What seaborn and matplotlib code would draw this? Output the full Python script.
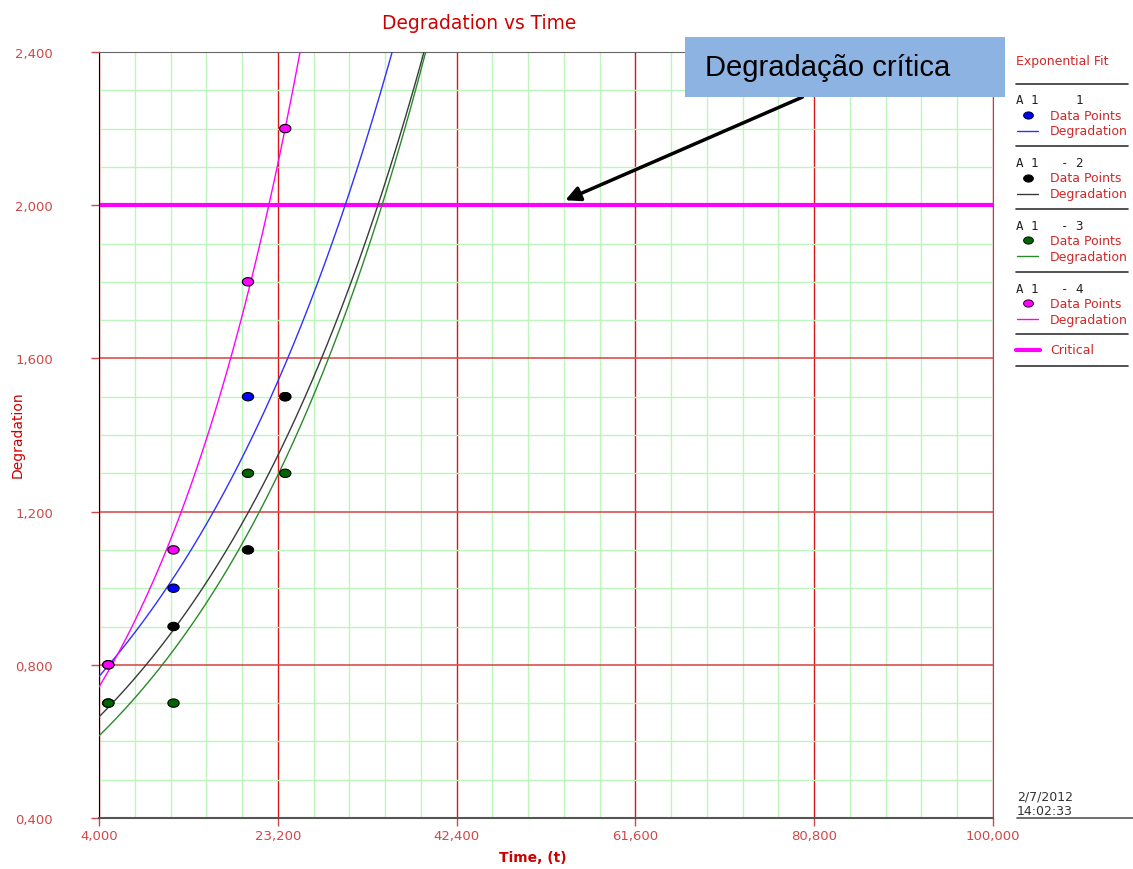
import numpy as np
import pandas as pd
import matplotlib
matplotlib.use("Agg")
import matplotlib.pyplot as plt
from matplotlib.patches import Rectangle
from matplotlib.path import Path
from matplotlib.ticker import FixedLocator, MultipleLocator, FuncFormatter
import seaborn as sns

# data
units = ["A 1     1", "A 1   - 2", "A 1   - 3", "A 1   - 4"]
times = [5000, 12000, 20000, 24000]
deg_unit1 = [0.8, 1.0, 1.5, 1.5]
deg_unit2 = [0.7, 0.9, 1.1, 1.5]
deg_unit3 = [0.7, 0.7, 1.3, 1.3]
deg_unit4 = [0.8, 1.1, 1.8, 2.2]
# exponential fit y = a * exp(b * t), estimated from the drawn curves
fit_a = [0.666, 0.573, 0.526, 0.597]
fit_b = [3.613e-5, 3.682e-5, 3.884e-5, 5.437e-5]
critical = 2.0
arrow_t = 53800

x_ticks = [4000, 23200, 42400, 61600, 80800, 100000]
y_ticks = [0.4, 0.8, 1.2, 1.6, 2.0, 2.4]

point_colors = ["#0000FF", "#000000", "#006400", "#FF00FF"]
line_colors = ["#3030FF", "#3A3A3A", "#2A8A2A", "#FF00FF"]
red = "#CC0000"
tick_red = "#D04848"

# long tables for seaborn
pts = pd.DataFrame({
    "Unit": np.repeat(units, len(times)),
    "Time": times * len(units),
    "Degradation": deg_unit1 + deg_unit2 + deg_unit3 + deg_unit4,
})
t_fit = np.linspace(4000, 46000, 400)
curves = pd.concat([
    pd.DataFrame({"Unit": u, "Time": t_fit, "Degradation": a * np.exp(b * t_fit)})
    for u, a, b in zip(units, fit_a, fit_b)
])

sns.set_style("white")
plt.rcParams["font.family"] = ["DejaVu Sans"]

W, H = 1133, 870
fig = plt.figure(figsize=(W / 100, H / 100), dpi=100)
ax = fig.add_axes([99 / W, 1 - 819 / H, 894 / W, 766 / H])

# grid
ax.set_xlim(4000, 100000)
ax.set_ylim(0.4, 2.4)
ax.set_xticks(x_ticks)
ax.set_yticks(y_ticks)
ax.xaxis.set_minor_locator(FixedLocator(np.arange(4000, 100001, 3840)))
ax.yaxis.set_minor_locator(MultipleLocator(0.1))
ax.grid(which="minor", color="#BDF5BD", lw=1)
ax.grid(which="major", axis="x", color="#D81818", lw=1.0)
ax.grid(which="major", axis="y", color="#D85050", lw=1.2)
ax.set_axisbelow(True)

ax.axhline(critical, color="#FF00FF", lw=3, zorder=2)

sns.lineplot(data=curves, x="Time", y="Degradation", hue="Unit", hue_order=units,
             palette=dict(zip(units, line_colors)), lw=1, legend=False, ax=ax, zorder=3)

theta = np.linspace(0, 2 * np.pi, 40)
ellipse = Path(np.column_stack([1.35 * np.cos(theta), np.sin(theta)]))
sns.scatterplot(data=pts, x="Time", y="Degradation", hue="Unit", hue_order=units,
                palette=dict(zip(units, point_colors)), marker=ellipse, s=66,
                edgecolor="black", linewidth=0.8, legend=False, ax=ax, zorder=5)

# axes styling
ax.xaxis.set_major_formatter(FuncFormatter(lambda v, p: f"{v:,.0f}"))
ax.yaxis.set_major_formatter(FuncFormatter(lambda v, p: f"{v:.3f}".replace(".", ",")))
ax.tick_params(which="major", direction="out", length=6, width=1, color=tick_red,
               labelcolor=tick_red, labelsize=9.5, bottom=True, left=True)
ax.tick_params(axis="y", pad=27)
ax.tick_params(axis="x", pad=2)
ax.tick_params(which="minor", length=0)
ax.spines["left"].set_color("black")
ax.spines["bottom"].set_color("#555555")
ax.spines["bottom"].set_linewidth(1.5)
for s in ["top", "right"]:
    ax.spines[s].set_color("#666666")

ax.set_xlabel("Time, (t)", color=red, fontweight="bold", fontsize=10)
ax.set_ylabel("Degradation", color=red, fontsize=10)
ax.xaxis.set_label_coords((533 - 99) / 894, -(851 - 819) / 766)
ax.yaxis.set_label_coords(-(99 - 25) / 894, (819 - 435) / 766)
ax.set_title("Degradation vs Time", color=red, fontsize=13.4, x=(479 - 99) / 894, pad=17)

# callout arrow pointing at the critical line
ax.annotate("", xy=(arrow_t, critical + 0.01), xytext=(805, H - 97),
            textcoords="figure pixels",
            arrowprops=dict(arrowstyle="-|>", color="black", lw=2.5, mutation_scale=22))

# overlay in pixel coordinates for the side legend and the callout box
ov = fig.add_axes([0, 0, 1, 1], zorder=3)
ov.set_xlim(0, W)
ov.set_ylim(H, 0)
ov.axis("off")

ov.add_patch(Rectangle((685, 38), 320, 60, facecolor="#8DB3E2", edgecolor="none"))
ov.text(705, 68, "Degradação crítica", fontsize=21, family="Liberation Sans",
        va="center", ha="left", color="black")

leg_red = "#D02828"
ov.text(1016, 62, "Exponential Fit", color=leg_red, fontsize=9, va="center")
sep_y = [85, 147, 210, 273, 335, 367]
for y in sep_y:
    ov.plot([1016, 1128], [y, y], color="#333333", lw=1.2)
for i, u in enumerate(units):
    y0 = 101 + i * 62.7
    ov.text(1016, y0, u, family="DejaVu Sans Mono", fontsize=9, color="#222222", va="center")
    ov.scatter([1028], [y0 + 15], marker=ellipse, s=50, color=point_colors[i],
               edgecolor="black", linewidth=0.6)
    ov.text(1050, y0 + 15, "Data Points", color=leg_red, fontsize=9, va="center")
    ov.plot([1017, 1038], [y0 + 31, y0 + 31], color=line_colors[i], lw=1)
    ov.text(1050, y0 + 31, "Degradation", color=leg_red, fontsize=9, va="center")
ov.plot([1016, 1040], [351, 351], color="#FF00FF", lw=3)
ov.text(1050, 351, "Critical", color=leg_red, fontsize=9, va="center")

ov.text(1017, 797, "2/7/2012", color="#333333", fontsize=9, va="center")
ov.text(1017, 812, "14:02:33", color="#333333", fontsize=9, va="center")
ov.plot([1017, 1133], [819, 819], color="#555555", lw=1.2)

fig.savefig("out.png", dpi=100)
